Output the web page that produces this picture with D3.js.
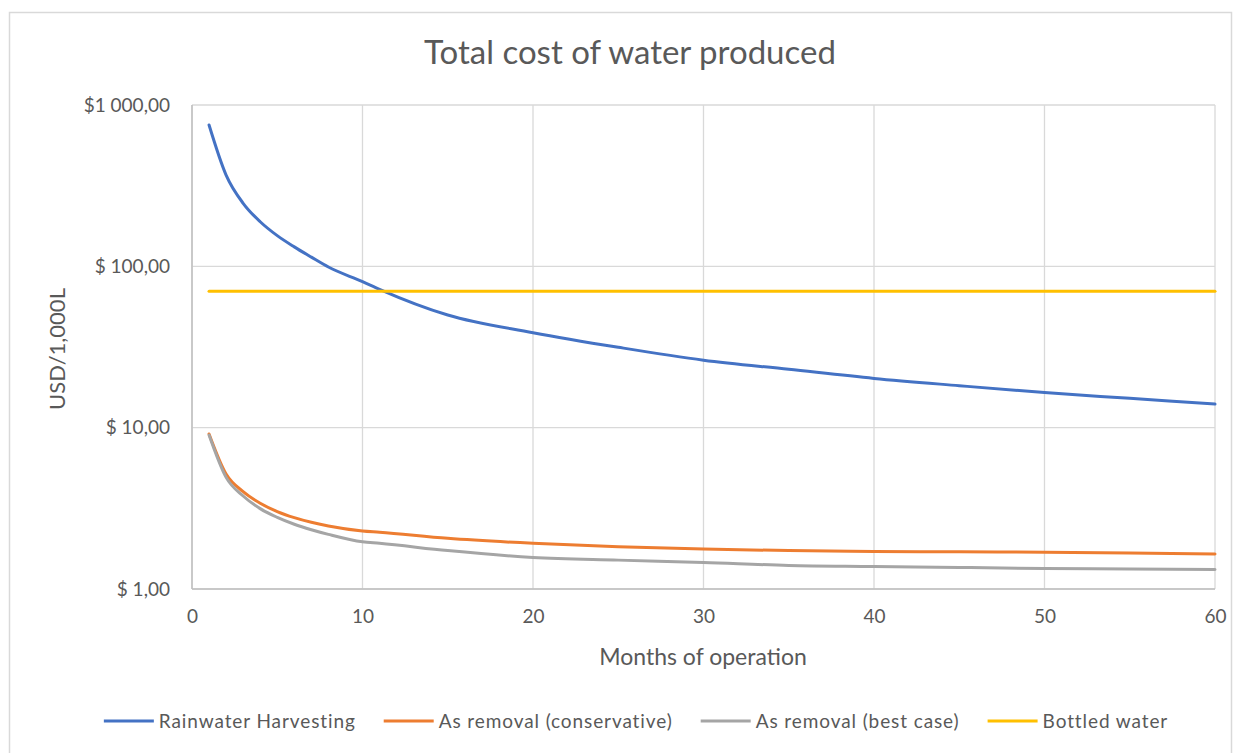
<!DOCTYPE html>
<html>
<head>
<meta charset="utf-8">
<script src="https://cdn.jsdelivr.net/npm/d3@7"></script>
<style>
  html, body { margin: 0; padding: 0; background: #fff; }
  svg { display: block; font-family: Lato, "Open Sans", sans-serif; }
</style>
</head>
<body>
<div id="chart"></div>
<script>
// Months and costs (USD per 1,000 L)
const months = [1, 2, 3, 4, 5, 6, 7, 8, 10, 11, 15, 20, 25, 30, 35, 40, 45, 50, 55, 60];
const rainwater = [752, 368, 246, 189, 155, 132, 114, 99, 80.4, 72, 49.9, 38.8, 31.5, 26.2, 23.0, 20.2, 18.2, 16.5, 15.2, 14.0];
const asConservative = [9.14, 5.16, 4.01, 3.40, 3.02, 2.77, 2.59, 2.46, 2.29, 2.25, 2.06, 1.92, 1.83, 1.77, 1.73, 1.71, 1.70, 1.69, 1.67, 1.65];
const asBestCase = [9.0, 4.92, 3.77, 3.15, 2.78, 2.52, 2.33, 2.18, 1.96, 1.92, 1.73, 1.57, 1.51, 1.46, 1.40, 1.38, 1.36, 1.34, 1.33, 1.32];
const bottledMonths = [1, 60];
const bottled = [70, 70];

const seriesNames = ['Rainwater Harvesting', 'As removal (conservative)', 'As removal (best case)', 'Bottled water'];
const seriesColors = ['#4472C4', '#ED7D31', '#A5A5A5', '#FFC000'];
const yTicks = [1, 10, 100, 1000];
const yTickLabels = ['$ 1,00', '$ 10,00', '$ 100,00', '$1 000,00'];
const xTicks = [0, 10, 20, 30, 40, 50, 60];

const W = 1242, H = 753;
const margin = { top: 105, right: 27, bottom: 164, left: 192 };
const innerW = W - margin.left - margin.right;
const innerH = H - margin.top - margin.bottom;

const svg = d3.select('#chart').append('svg')
  .attr('width', W).attr('height', H)
  .attr('viewBox', `0 0 ${W} ${H}`);

// Chart frame
svg.append('rect')
  .attr('x', 9.5).attr('y', 12.5)
  .attr('width', 1222).attr('height', 760)
  .attr('fill', '#fff').attr('stroke', '#d9d9d9').attr('stroke-width', 1.5);

svg.append('text')
  .attr('x', 630).attr('y', 64)
  .attr('text-anchor', 'middle')
  .attr('fill', '#595959').attr('font-size', 33)
  .text('Total cost of water produced');

const g = svg.append('g').attr('transform', `translate(${margin.left},${margin.top})`);

const x = d3.scaleLinear().domain([0, 60]).range([0, innerW]);
const y = d3.scaleLog().domain([1, 1000]).range([innerH, 0]);

// Gridlines
g.append('g')
  .selectAll('line')
  .data(yTicks)
  .join('line')
  .attr('x1', 0).attr('x2', innerW)
  .attr('y1', (d) => y(d)).attr('y2', (d) => y(d))
  .attr('stroke', '#d9d9d9').attr('stroke-width', 1.3);
g.append('g')
  .selectAll('line')
  .data(xTicks)
  .join('line')
  .attr('x1', (d) => x(d)).attr('x2', (d) => x(d))
  .attr('y1', 0).attr('y2', innerH)
  .attr('stroke', '#d9d9d9').attr('stroke-width', 1.3);

// Axis lines
g.append('line').attr('x1', 0).attr('x2', 0).attr('y1', 0).attr('y2', innerH)
  .attr('stroke', '#bfbfbf').attr('stroke-width', 1.5);
g.append('line').attr('x1', 0).attr('x2', innerW).attr('y1', innerH).attr('y2', innerH)
  .attr('stroke', '#bfbfbf').attr('stroke-width', 1.5);

// Y axis labels
const yAxisG = g.append('g')
  .call(d3.axisLeft(y).tickValues(yTicks).tickSize(0).tickPadding(22)
    .tickFormat((d, i) => yTickLabels[i]));
yAxisG.select('.domain').remove();
yAxisG.selectAll('text')
  .attr('fill', '#595959').attr('font-size', 19).attr('font-family', 'Lato, sans-serif');

// X axis labels
const xAxisG = g.append('g').attr('transform', `translate(0,${innerH})`)
  .call(d3.axisBottom(x).tickValues(xTicks).tickSize(0).tickPadding(21));
xAxisG.select('.domain').remove();
xAxisG.selectAll('text')
  .attr('fill', '#595959').attr('font-size', 19).attr('font-family', 'Lato, sans-serif');

// Axis titles
svg.append('text')
  .attr('x', 703).attr('y', 665)
  .attr('text-anchor', 'middle')
  .attr('fill', '#595959').attr('font-size', 23)
  .text('Months of operation');
svg.append('text')
  .attr('transform', `translate(65,${margin.top + innerH / 2 + 2}) rotate(-90)`)
  .attr('text-anchor', 'middle')
  .attr('fill', '#595959').attr('font-size', 22)
  .text('USD/1,000L');

// Series
const line = d3.line()
  .x((d) => x(d[0]))
  .y((d) => y(d[1]))
  .curve(d3.curveMonotoneX);

const seriesData = [
  d3.zip(months, rainwater),
  d3.zip(months, asConservative),
  d3.zip(months, asBestCase),
  d3.zip(bottledMonths, bottled),
];

seriesData.forEach((pts, i) => {
  g.append('path')
    .datum(pts)
    .attr('fill', 'none')
    .attr('stroke', seriesColors[i])
    .attr('stroke-width', 3)
    .attr('stroke-linecap', 'round')
    .attr('d', line);
});

// Legend
const legend = svg.append('g').attr('transform', 'translate(0,721)');
const items = legend.selectAll('g')
  .data(seriesNames)
  .join('g');
items.append('line')
  .attr('x1', 0).attr('x2', 50)
  .attr('y1', 0).attr('y2', 0)
  .attr('stroke', (d, i) => seriesColors[i])
  .attr('stroke-width', 3);
items.append('text')
  .attr('x', 55).attr('y', 0).attr('dy', '0.35em')
  .attr('fill', '#595959').attr('font-size', 19)
  .attr('letter-spacing', 0.9)
  .text((d) => d);

let widths = [];
items.each(function () { widths.push(55 + this.querySelector('text').getComputedTextLength()); });
const gap = 28;
const total = d3.sum(widths) + gap * (widths.length - 1);
let cursor = 636 - total / 2;
items.attr('transform', (d, i) => {
  const tx = cursor;
  cursor += widths[i] + gap;
  return `translate(${tx},0)`;
});
</script>
</body>
</html>
